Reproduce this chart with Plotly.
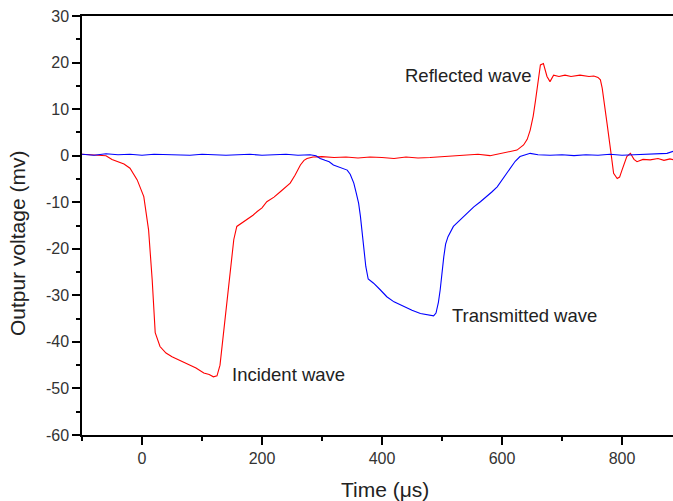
import plotly.graph_objects as go

# Red trace (incident + reflected wave), time in microseconds, voltage in mV
red_t = [-100, -80, -60, -50, -40, -30, -20, -8, 3, 11, 17, 22, 30, 40, 50, 60, 75, 90,
         103, 112, 119, 125, 130, 136, 140, 144, 148, 153, 158, 165, 175, 185, 192, 200,
         208, 220, 231, 240, 247, 255, 264, 270, 275, 285, 300, 320, 340, 360, 380, 400,
         420, 440, 460, 480, 500, 520, 540, 560, 580, 600, 612, 625, 636, 642, 647, 652,
         656, 660, 664, 669, 672, 675, 680, 686, 695, 705, 715, 730, 745, 753, 760, 764,
         767, 770, 775, 781, 786, 792, 796, 800, 804, 808, 814, 820, 825, 835, 847, 860,
         870, 880, 887]
red_v = [0.3, 0.2, 0.0, -0.8, -1.3, -1.8, -2.7, -5.2, -8.8, -16, -26.7, -38, -41, -42.4,
         -43.2, -43.8, -44.6, -45.6, -46.7, -47.0, -47.5, -47.3, -45, -38, -33, -28, -23,
         -18, -15.2, -14.6, -13.8, -12.8, -12, -11.2, -9.9, -8.9, -7.7, -6.8, -5.9, -4.2,
         -2.0, -1.0, -0.6, -0.3, -0.2, -0.4, -0.3, -0.5, -0.3, -0.4, -0.6, -0.3, -0.5, -0.4,
         -0.2, 0.0, 0.2, 0.3, 0.0, 0.5, 0.8, 1.2, 2.3, 3.5, 5.5, 8.5, 12, 16, 19.5, 19.8,
         18.5, 17, 15.9, 17.3, 17, 17.3, 17, 17.3, 17, 17.1, 16.8, 16.3, 14.5, 12, 7, 1.2,
         -3.8, -4.9, -4.6, -3.1, -1.5, -0.2, 0.5, -0.8, -1.3, -0.8, -0.9, -0.6, -1.0, -0.7,
         -0.9]

# Blue trace (transmitted wave)
blue_t = [-100, -80, -60, -40, -20, 0, 20, 40, 60, 80, 100, 120, 140, 160, 180, 200, 220,
          240, 260, 280, 290, 297, 305, 312, 319, 330, 342, 347, 353, 357, 361, 364, 367,
          370, 373, 377, 386, 397, 408, 420, 436, 450, 464, 476, 486, 490, 494, 497, 500,
          503, 506, 510, 519, 528, 536, 545, 553, 564, 575, 583, 592, 598, 603, 609, 614,
          622, 630, 640, 647, 660, 680, 700, 720, 740, 760, 780, 800, 820, 840, 860, 875,
          887]
blue_v = [0.3, 0.1, 0.4, 0.2, 0.3, 0.1, 0.3, 0.2, 0.2, 0.1, 0.3, 0.2, 0.1, 0.2, 0.3, 0.1,
          0.2, 0.3, 0.1, 0.2, 0.0, -0.6, -1.0, -1.3, -2.0, -2.6, -3.1, -4.0, -5.9, -8.0,
          -10.2, -13, -16.7, -20.5, -23.8, -26.5, -27.4, -28.8, -30.3, -31.4, -32.4, -33.2,
          -33.9, -34.2, -34.4, -33.8, -31.5, -28.8, -25, -21.7, -19, -17.4, -15.2, -14.1,
          -13.1, -12, -11, -9.9, -8.8, -7.8, -6.7, -5.6, -4.5, -3.4, -2.4, -1.2, -0.2, 0.3,
          0.5, 0.2, 0.1, 0.2, 0.0, 0.2, 0.1, 0.3, 0.1, 0.2, 0.3, 0.4, 0.5, 1.0]

x_ticks = [0, 200, 400, 600, 800]
x_tick_labels = ["0", "200", "400", "600", "800"]
y_ticks = [-60, -50, -40, -30, -20, -10, 0, 10, 20, 30]
y_tick_labels = ["-60", "-50", "-40", "-30", "-20", "-10", "0", "10", "20", "30"]

labels = ["Incident wave", "Reflected wave", "Transmitted wave"]
label_t = [147, 435, 514]
label_v = [-46.9, 17.3, -34.4]

FONT = "Arial, Liberation Sans, sans-serif"

fig = go.Figure()
fig.add_trace(go.Scatter(x=red_t, y=red_v, mode="lines",
                         line=dict(color="#ff0000", width=1.1), showlegend=False))
fig.add_trace(go.Scatter(x=blue_t, y=blue_v, mode="lines",
                         line=dict(color="#0000ff", width=1.1), showlegend=False))

for txt, t, v in zip(labels, label_t, label_v):
    fig.add_annotation(x=t, y=v, text=txt, showarrow=False, xanchor="left",
                       yanchor="middle", font=dict(family=FONT, size=18.5, color="#222222"))

# axis titles
fig.add_annotation(x=0, xref="paper", y=0.458, yref="paper", text="Outpur voltage (mv)",
                   textangle=-90, showarrow=False, xanchor="center", yanchor="middle",
                   xshift=-65, font=dict(family=FONT, size=21, color="#222222"))
fig.add_annotation(x=0.513, xref="paper", y=0, yref="paper", text="Time (\u03bcs)",
                   showarrow=False, xanchor="center", yanchor="middle", yshift=-54,
                   font=dict(family=FONT, size=21, color="#222222"))

fig.update_xaxes(range=[-100, 885], tickvals=x_ticks, ticktext=x_tick_labels,
                 ticks="outside", ticklen=8, automargin=False,
                 tickwidth=1.5, tickcolor="#000", showline=True, linecolor="#000",
                 linewidth=1.5, mirror=True, showgrid=False, zeroline=False,
                 tickfont=dict(family=FONT, size=16, color="#333333"),
                 minor=dict(dtick=100, tick0=0, ticks="outside", ticklen=4,
                            tickwidth=1.5, tickcolor="#000", showgrid=False))
fig.update_yaxes(range=[-60, 30], tickvals=y_ticks, ticktext=y_tick_labels,
                 ticks="outside", ticklen=8, automargin=False,
                 tickwidth=1.5, tickcolor="#000", showline=True, linecolor="#000",
                 linewidth=1.5, mirror=False, showgrid=False, zeroline=False,
                 tickfont=dict(family=FONT, size=16, color="#333333"),
                 minor=dict(dtick=5, tick0=0, ticks="outside", ticklen=4,
                            tickwidth=1.5, tickcolor="#000", showgrid=False))

fig.update_layout(width=673, height=501, margin=dict(l=82, r=0, t=16, b=66, autoexpand=False),
                  paper_bgcolor="white", plot_bgcolor="white", showlegend=False)

fig.write_html("out.html", config={"displayModeBar": False},
               post_script="document.body.style.margin='0';document.body.style.padding='0';")
